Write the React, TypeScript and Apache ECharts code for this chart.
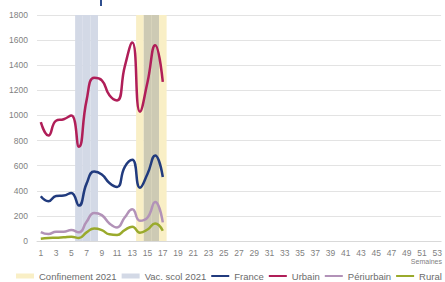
import React, { useEffect, useRef } from "react";
import * as echarts from "echarts";

const weeks = Array.from({ length: 53 }, (_, i) => String(i + 1));
const france = [356, 317, 359, 362, 383, 282, 457, 554, 530, 462, 430, 589, 647, 425, 536, 681, 510];
const urbain = [947, 840, 958, 970, 1000, 750, 1120, 1300, 1280, 1160, 1120, 1387, 1580, 1030, 1267, 1560, 1267];
const periurbain = [71, 55, 74, 74, 87, 69, 153, 224, 206, 140, 108, 187, 253, 161, 187, 311, 148];
const rural = [18, 24, 26, 29, 34, 24, 69, 100, 87, 53, 48, 87, 114, 66, 92, 140, 82];
const confinementWeeks = [14, 15, 16, 17];
const vacWeeks = [6, 7, 8, 15, 16];

export default function App() {
  const ref = useRef<HTMLDivElement>(null);
  useEffect(() => {
    const chart = echarts.init(ref.current!, null, { renderer: "svg" });
    const yellow = "#F9EFC6";
    const vac = "#D3D9E6";
    const overlap = "#CDCAB4";
    const confData = weeks.map((w) => (confinementWeeks.includes(+w) ? 1 : null));
    const vacData = weeks.map((w) => {
      const n = +w;
      if (!vacWeeks.includes(n)) return null;
      if (confinementWeeks.includes(n)) return { value: 1, itemStyle: { color: overlap } };
      return 1;
    });
    const font = "Liberation Sans";
    const lineSeries = (name: string, data: number[], color: string) => ({
      name,
      type: "line",
      data,
      smooth: 0.5,
      symbol: "none",
      showSymbol: false,
      lineStyle: { color, width: 2.5 },
      itemStyle: { color },
      z: 5,
    });
    const lineIcon = "path://M0,0 L0.01,0 M0,1.4 L18,1.4 L18,3.6 L0,3.6 Z M0,5 L0.01,5";
    const lineLegend = (name: string) => ({ name, icon: lineIcon });
    chart.setOption({
      animation: false,
      textStyle: { fontFamily: font },
      grid: { left: 37, right: 3, top: 15, bottom: 41 },
      xAxis: {
        type: "category",
        data: weeks,
        boundaryGap: true,
        axisLine: { lineStyle: { color: "#D9D9D9" } },
        axisTick: { show: false },
        axisLabel: { interval: 1, color: "#7F7F7F", fontSize: 8.5, margin: 7 },
      },
      yAxis: [
        {
          type: "value",
          min: 0,
          max: 1800,
          interval: 200,
          axisLine: { show: false },
          axisTick: { show: false },
          splitLine: { lineStyle: { color: "#E3E3E3", width: 1 } },
          axisLabel: { color: "#7F7F7F", fontSize: 8.5, margin: 9, formatter: (v: number) => String(v) },
        },
        { type: "value", min: 0, max: 1, show: false },
      ],
      legend: {
        left: 16,
        top: 271,
        width: 440,
        padding: 0,
        itemWidth: 18,
        itemHeight: 5,
        itemGap: 5,
        textStyle: { color: "#6B6B6B", fontSize: 9.5 },
        data: [
          { name: "Confinement 2021", icon: "rect" },
          { name: "Vac. scol 2021", icon: "rect" },
          lineLegend("France"),
          lineLegend("Urbain"),
          lineLegend("Périurbain"),
          lineLegend("Rural"),
        ],
      },
      graphic: [
        { type: "rect", left: 100, top: 0, shape: { width: 2, height: 6 }, style: { fill: "#2F4F8F" } },
        {
          type: "text",
          right: 3,
          top: 258,
          style: { text: "Semaines", fill: "#7F7F7F", fontSize: 7, fontFamily: font },
        },
      ],
      series: [
        {
          name: "Confinement 2021",
          type: "bar",
          yAxisIndex: 1,
          data: confData,
          barCategoryGap: "0%",
          barGap: "-100%",
          itemStyle: { color: yellow },
          z: 1,
        },
        {
          name: "Vac. scol 2021",
          type: "bar",
          yAxisIndex: 1,
          data: vacData,
          barCategoryGap: "0%",
          barGap: "-100%",
          itemStyle: { color: vac },
          z: 2,
        },
        lineSeries("France", france, "#213B7E"),
        lineSeries("Urbain", urbain, "#B01E58"),
        lineSeries("Périurbain", periurbain, "#B292B8"),
        lineSeries("Rural", rural, "#9AAA2C"),
      ],
    });
    return () => chart.dispose();
  }, []);
  return <div ref={ref} style={{ position: "absolute", left: 0, top: 0, width: 445, height: 282 }} />;
}
